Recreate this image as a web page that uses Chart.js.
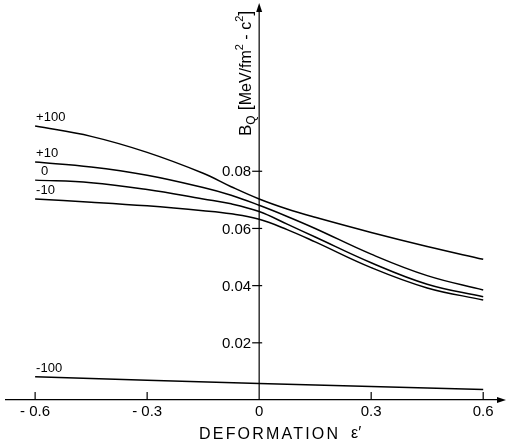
<!DOCTYPE html>
<html>
<head>
<meta charset="utf-8">
<script src="https://cdn.jsdelivr.net/npm/chart.js@4.4.0/dist/chart.umd.min.js"></script>
<style>
  html, body { margin: 0; padding: 0; background: #fff; }
</style>
</head>
<body>
<canvas id="bqChart" width="510" height="445"></canvas>
<script>
// values
const deformation = [-0.6, -0.45, -0.3, -0.15, -0.075, 0, 0.075, 0.15, 0.3, 0.45, 0.6];
const bqPlus100 = [0.0958, 0.0922, 0.0866, 0.0793, 0.0746, 0.0703, 0.0668, 0.0639, 0.0586, 0.0537, 0.0492];
const bqPlus10 = [0.0832, 0.0815, 0.0786, 0.0743, 0.0716, 0.0681, 0.0642, 0.0600, 0.0510, 0.0435, 0.0385];
const bqZero = [0.0769, 0.0760, 0.0736, 0.0703, 0.0686, 0.0659, 0.0615, 0.0570, 0.0480, 0.0405, 0.0361];
const bqMinus10 = [0.0703, 0.0692, 0.0679, 0.0662, 0.0651, 0.0632, 0.0596, 0.0553, 0.0463, 0.0392, 0.0350];
const deformationEnds = [-0.6, 0, 0.6];
const bqMinus100 = [0.0081, 0.0058, 0.0037];
const curveLabels = ['+100', '+10', '0', '-10', '-100'];
const xTicks = [-0.6, -0.3, 0, 0.3, 0.6];
const xTickLabels = ['- 0.6', '- 0.3', '0', '0.3', '0.6'];
const yTicks = [0.02, 0.04, 0.06, 0.08];
const yTickLabels = ['0.02', '0.04', '0.06', '0.08'];

const FONT = '"Liberation Sans", "DejaVu Sans", sans-serif';

function toPoints(xs, ys) {
    return xs.map((x, i) => ({ x: x, y: ys[i] }));
}

function makeSet(label, xs, ys) {
    return {
        label: label,
        data: toPoints(xs, ys),
        borderColor: '#000',
        borderWidth: 1.5,
        pointRadius: 0,
        fill: false,
        tension: 0.4
    };
}

// axes in the middle, arrows, ticks, titles and curve labels
const axisDecor = {
    id: 'axisDecor',
    afterDraw(chart) {
        const c = chart.ctx;
        const xs = chart.scales.x;
        const ys = chart.scales.y;
        const area = chart.chartArea;
        const x0 = xs.getPixelForValue(0);
        const y0 = ys.getPixelForValue(0);

        c.save();
        c.strokeStyle = '#000';
        c.fillStyle = '#000';
        c.lineWidth = 1.2;

        // vertical axis with arrow
        c.beginPath();
        c.moveTo(x0, y0);
        c.lineTo(x0, area.top - 2);
        c.stroke();
        c.beginPath();
        c.moveTo(x0, area.top - 7);
        c.lineTo(x0 - 3, area.top + 2);
        c.lineTo(x0 + 3, area.top + 2);
        c.closePath();
        c.fill();

        // arrow on horizontal axis
        c.beginPath();
        c.moveTo(area.right + 6, y0);
        c.lineTo(area.right - 3, y0 - 3);
        c.lineTo(area.right - 3, y0 + 3);
        c.closePath();
        c.fill();

        // x tick marks pointing up
        xTicks.forEach(v => {
            if (v === 0) return;
            const px = xs.getPixelForValue(v);
            c.beginPath();
            c.moveTo(px, y0);
            c.lineTo(px, y0 - 8);
            c.stroke();
        });

        // y ticks and labels
        c.font = '15px ' + FONT;
        c.textAlign = 'right';
        c.textBaseline = 'middle';
        yTicks.forEach((v, i) => {
            const py = ys.getPixelForValue(v);
            c.beginPath();
            c.moveTo(x0 - 7, py);
            c.lineTo(x0 + 3, py);
            c.stroke();
            c.fillText(yTickLabels[i], x0 - 8, py + 1);
        });

        // y title, rotated
        c.save();
        c.translate(x0 - 8, 136);
        c.rotate(-Math.PI / 2);
        c.textAlign = 'left';
        c.textBaseline = 'alphabetic';
        let tx = 0;
        const piece = (txt, size, dy) => {
            c.font = size + 'px ' + FONT;
            c.fillText(txt, tx, dy);
            tx += c.measureText(txt).width;
        };
        piece('B', 17, 0);
        piece('Q', 12, 4);
        piece(' [', 18, 0);
        piece('MeV/fm', 16, 0);
        piece('2', 11, -8);
        piece(' - c', 16, 0);
        piece('2', 11, -8);
        piece(']', 18, 0);
        c.restore();

        // x title
        c.font = '16px ' + FONT;
        c.textAlign = 'left';
        c.textBaseline = 'alphabetic';
        c.letterSpacing = '2.2px';
        c.fillText('DEFORMATION', 199, 439);
        c.letterSpacing = '0px';
        c.font = '16px ' + FONT;
        c.fillText('\u03B5\u2032', 351, 438);

        // curve labels at the start of each line
        c.font = '13px ' + FONT;
        c.textBaseline = 'bottom';
        chart.data.datasets.forEach((ds, i) => {
            const p = chart.getDatasetMeta(i).data[0];
            const dx = curveLabels[i] === '0' ? 6 : 1;
            c.fillText(curveLabels[i], p.x + dx, p.y - 2);
        });
        c.restore();
    }
};

const ctx = document.getElementById('bqChart').getContext('2d');
const bqChart = new Chart(ctx, {
    type: 'line',
    data: {
        datasets: [
            makeSet('+100', deformation, bqPlus100),
            makeSet('+10', deformation, bqPlus10),
            makeSet('0', deformation, bqZero),
            makeSet('-10', deformation, bqMinus10),
            makeSet('-100', deformationEnds, bqMinus100)
        ]
    },
    options: {
        responsive: false,
        animation: false,
        devicePixelRatio: 1,
        layout: { padding: { left: 6, right: 10, top: 10, bottom: 21 } },
        plugins: {
            legend: { display: false },
            tooltip: { enabled: false }
        },
        scales: {
            x: {
                type: 'linear',
                min: -0.678,
                max: 0.645,
                afterBuildTicks: axis => {
                    axis.ticks = xTicks.map(v => ({ value: v }));
                },
                grid: { display: false, drawTicks: false },
                border: { display: true, color: '#000', width: 1.2 },
                ticks: {
                    autoSkip: false,
                    maxRotation: 0,
                    padding: 3,
                    color: '#000',
                    font: { family: FONT, size: 15 },
                    callback: (value, index) => xTickLabels[index]
                }
            },
            y: {
                type: 'linear',
                min: 0,
                max: 0.1364,
                display: false
            }
        }
    },
    plugins: [axisDecor]
});
</script>
</body>
</html>
